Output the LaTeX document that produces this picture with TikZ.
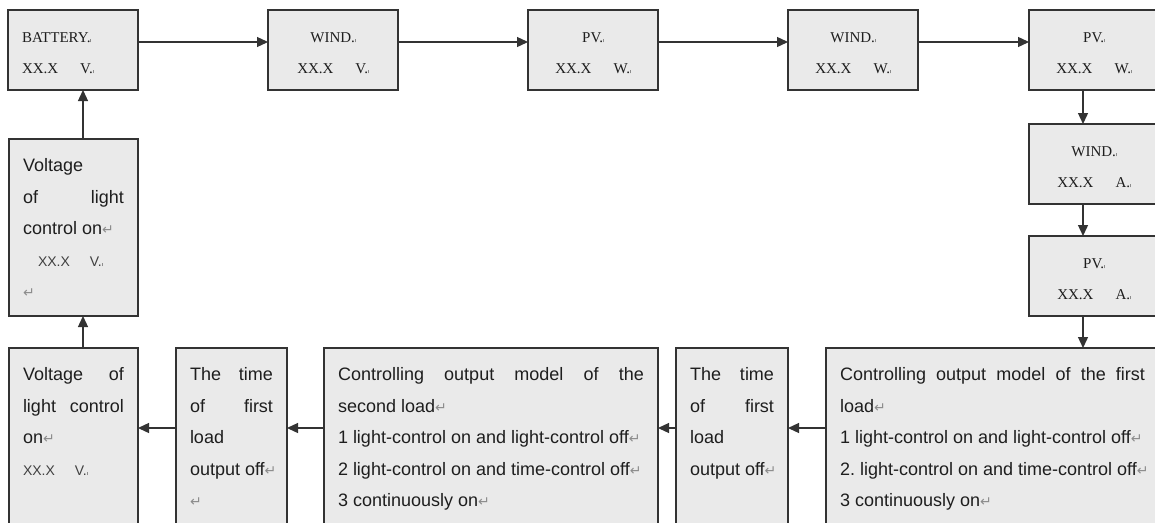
\documentclass[tikz,border=0pt]{standalone}
\usepackage{fontspec}
\setmainfont{Liberation Sans}
\newfontfamily\cellserif{Liberation Serif}
\newfontfamily\markfont{DejaVu Sans}
\usetikzlibrary{positioning,arrows.meta}

\definecolor{boxfill}{HTML}{EAEAEA}
\definecolor{boxline}{HTML}{333333}
\definecolor{markgray}{HTML}{8C8C8C}
\definecolor{inkgray}{HTML}{1E1E1E}
\newcommand{\parmark}{\rlap{\markfont\fontsize{14}{14}\selectfont\color{markgray}↵}}
\newcommand{\cellmark}{{\color{markgray}\rule{0.6pt}{3.5pt}}}
\newcommand{\sansbig}{\fontsize{18}{31.5}\selectfont}
\newcommand{\sansval}{\fontsize{14}{31.5}\selectfont\color{black!75}}

\begin{document}
\begin{tikzpicture}[x=1pt, y=1pt, node distance=130pt,
	cellbox/.style={draw=boxline, fill=boxfill, line width=1.3pt, inner sep=0pt, outer sep=0pt, text=inkgray},
	smallbox/.style={cellbox, minimum width=130pt, minimum height=80pt, text width=102pt, align=center,
		font=\cellserif\fontsize{15}{31}\selectfont, execute at begin node={\rule{0pt}{16pt}}},
	bigbox/.style 2 args={cellbox, inner xsep=14pt, font=\sansbig,
		execute at begin node={\begin{minipage}[c][#2][t]{#1}\vspace{19.5pt}},
		execute at end node={\end{minipage}}},
	flow/.style={draw=boxline, line width=1.3pt, -{Triangle[length=11pt,width=10pt]}}]

	\useasboundingbox (0,0) rectangle (1155,-522);
	\clip (0,0) rectangle (1155,-522);

	\node[smallbox, align=left, anchor=north west] (batt) at (8,-10) {BATTERY.\cellmark\\XX.X\hspace{22pt}V.\cellmark};
	\node[smallbox] (windv) [right=of batt] {WIND.\cellmark\\XX.X\hspace{22pt}V.\cellmark};
	\node[smallbox] (pvw) [right=of windv] {PV.\cellmark\\XX.X\hspace{22pt}W.\cellmark};
	\node[smallbox] (windw) [right=of pvw] {WIND.\cellmark\\XX.X\hspace{22pt}W.\cellmark};
	\node[smallbox] (pvw2) [right=111pt of windw] {PV.\cellmark\\XX.X\hspace{22pt}W.\cellmark};
	\node[smallbox] (winda) [below=34pt of pvw2] {WIND.\cellmark\\XX.X\hspace{22pt}A.\cellmark};
	\node[smallbox] (pva) [below=32pt of winda] {PV.\cellmark\\XX.X\hspace{22pt}A.\cellmark};

	\node[bigbox={305pt}{190pt}, anchor=north east] (modefirst) at ([yshift=-32pt]pva.south east)
		{Controlling\hfill output\hfill model\hfill of\hfill the\hfill first\\
		load\parmark\\
		1 light-control on and light-control off\parmark\\
		2.\ light-control on and time-control off\parmark\\
		3 continuously on\parmark};
	\node[bigbox={84pt}{190pt}] (offtimea) [left=38pt of modefirst]
		{The\hfill time\\of\hfill first\\load\\output off\parmark};
	\node[bigbox={306pt}{190pt}] (modesecond) [left=18pt of offtimea]
		{Controlling\hfill output\hfill model\hfill of\hfill the\\
		second load\parmark\\
		1 light-control on and light-control off\parmark\\
		2 light-control on and time-control off\parmark\\
		3 continuously on\parmark};
	\node[bigbox={83pt}{190pt}] (offtimeb) [left=37pt of modesecond]
		{The\hfill time\\of\hfill first\\load\\output off\parmark\\\parmark};
	\node[bigbox={101pt}{190pt}] (lightv) [left=38pt of offtimeb]
		{Voltage\hfill of\\light\hfill control\\on\parmark\\{\sansval XX.X\hspace{20pt}V.\cellmark}};
	\node[bigbox={101pt}{177pt}] (lightvup) [above=32pt of lightv]
		{Voltage\\of\hfill light\\control on\parmark\\
		\hspace*{15pt}{\sansval XX.X\hspace{20pt}V.\cellmark}\\\parmark};

	\foreach \a/\b in {batt/windv, windv/pvw, pvw/windw, windw/pvw2}
		\draw[flow] ([yshift=8pt]\a.east) -- ([yshift=8pt]\b.west);
	\draw[flow] ([xshift=-11pt]pvw2.south) -- ([xshift=-11pt]winda.north);
	\draw[flow] ([xshift=-11pt]winda.south) -- ([xshift=-11pt]pva.north);
	\draw[flow] ([xshift=-11pt]pva.south) -- ([xshift=-11pt]pva.south |- modefirst.north);
	\foreach \a/\b in {modefirst/offtimea, offtimea/modesecond, modesecond/offtimeb, offtimeb/lightv}
		\draw[flow] ([yshift=15pt]\a.west) -- ([yshift=15pt]\b.east);
	\draw[flow] ([xshift=9.5pt]lightv.north) -- ([xshift=9.5pt]lightvup.south);
	\draw[flow] ([xshift=9.5pt]lightvup.north) -- ([xshift=9.5pt]lightvup.north |- batt.south);

\end{tikzpicture}
\end{document}
